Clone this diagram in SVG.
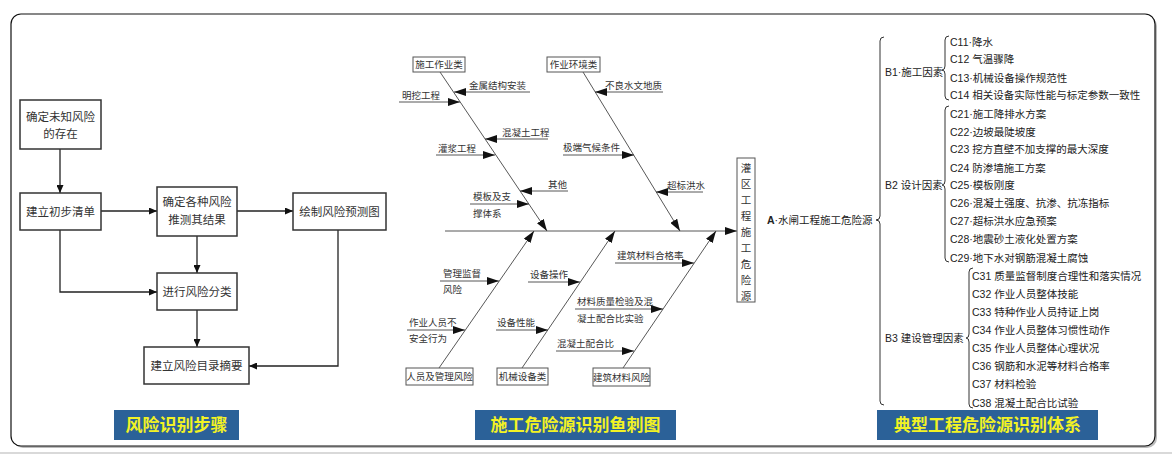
<svg xmlns="http://www.w3.org/2000/svg" width="1172" height="457" viewBox="0 0 1172 457">
<defs>
<style>
.cn{font-family:"Noto Sans CJK SC","Liberation Sans",sans-serif;}
.ln{font-family:"Liberation Sans","Noto Sans CJK SC",sans-serif;}
.fbox{fill:#fff;stroke:#333;stroke-width:1.5;}
.ft{font-size:11.5px;fill:#333;}
.fl{fill:none;stroke:#222;stroke-width:1.3;}
.bbox{fill:#fff;stroke:#555;stroke-width:1;}
.bt{font-size:9.5px;fill:#333;}
.bone{fill:none;stroke:#444;stroke-width:0.9;}
.tt{font-size:10.5px;fill:#222;}
.brace{fill:none;stroke:#333;stroke-width:1;}
.title{fill:#2B6198;}
.titt{font-size:17px;font-weight:bold;fill:#F2F224;text-anchor:middle;}
</style>
<marker id="ah" markerUnits="userSpaceOnUse" markerWidth="12" markerHeight="8" refX="12" refY="4" orient="auto"><path d="M0,0 L12,4 L0,8 z" fill="#111"/></marker>
<marker id="fa" markerUnits="userSpaceOnUse" markerWidth="8" markerHeight="7" refX="8" refY="3.5" orient="auto"><path d="M0,0 L8,3.5 L0,7 z" fill="#111"/></marker>
</defs>
<rect x="0" y="0" width="1172" height="457" fill="#fff"/>
<line x1="0" y1="453" x2="1172" y2="453" stroke="#ccc" stroke-width="1.5"/>
<rect x="13" y="16" width="1144" height="432" rx="10" fill="#bbb"/>
<rect x="11" y="14" width="1144" height="432" rx="10" fill="#fff" stroke="#111" stroke-width="1.2"/>

<!-- Left flowchart -->
<g id="connectors-flow">
<line class="fl" x1="60" y1="149" x2="60" y2="193" marker-end="url(#fa)"/>
<line class="fl" x1="101" y1="211" x2="157" y2="211" marker-end="url(#fa)"/>
<line class="fl" x1="237" y1="211" x2="293" y2="211" marker-end="url(#fa)"/>
<line class="fl" x1="197" y1="236" x2="197" y2="273" marker-end="url(#fa)"/>
<polyline class="fl" points="60,230 60,292 157,292" marker-end="url(#fa)"/>
<line class="fl" x1="197" y1="310" x2="197" y2="347" marker-end="url(#fa)"/>
<polyline class="fl" points="338,230 338,366 249,366" marker-end="url(#fa)"/>
</g>
<g id="n-unknown"><rect class="fbox" x="20" y="100" width="81" height="49"/><text class="cn ft" x="60.5" y="121" text-anchor="middle">确定未知风险</text><text class="cn ft" x="60.5" y="138" text-anchor="middle">的存在</text></g>
<g id="n-list"><rect class="fbox" x="20" y="193" width="81" height="37"/><text class="cn ft" x="60.5" y="215.5" text-anchor="middle">建立初步清单</text></g>
<g id="n-determine"><rect class="fbox" x="157" y="187" width="80" height="49"/><text class="cn ft" x="197" y="206" text-anchor="middle">确定各种风险</text><text class="cn ft" x="197" y="224" text-anchor="middle">推测其结果</text></g>
<g id="n-draw"><rect class="fbox" x="293" y="193" width="93" height="37"/><text class="cn ft" x="339.5" y="215.5" text-anchor="middle">绘制风险预测图</text></g>
<g id="n-classify"><rect class="fbox" x="157" y="273" width="80" height="37"/><text class="cn ft" x="197" y="295.5" text-anchor="middle">进行风险分类</text></g>
<g id="n-catalog"><rect class="fbox" x="144" y="347" width="105" height="37"/><text class="cn ft" x="196.5" y="369.5" text-anchor="middle">建立风险目录摘要</text></g>
<g id="t-left"><rect class="title" x="114" y="410" width="125" height="30"/><text class="cn titt" x="176.5" y="431">风险识别步骤</text></g>

<!-- Fishbone -->
<g id="connectors-fish">
<line class="bone" x1="445" y1="231" x2="737" y2="231" marker-end="url(#ah)"/>
<line class="bone" x1="440" y1="72" x2="547" y2="231" marker-end="url(#ah)"/>
<line class="bone" x1="583" y1="72" x2="680" y2="231" marker-end="url(#ah)"/>
<line class="bone" x1="439" y1="368" x2="534" y2="231" marker-end="url(#ah)"/>
<line class="bone" x1="522" y1="368" x2="615" y2="231" marker-end="url(#ah)"/>
<line class="bone" x1="623" y1="368" x2="716" y2="231" marker-end="url(#ah)"/>
<line class="bone" x1="530" y1="92" x2="454" y2="92" marker-end="url(#ah)"/>
<line class="bone" x1="399" y1="102" x2="460" y2="102" marker-end="url(#ah)"/>
<line class="bone" x1="548" y1="139" x2="485" y2="139" marker-end="url(#ah)"/>
<line class="bone" x1="436" y1="155" x2="495" y2="155" marker-end="url(#ah)"/>
<line class="bone" x1="568" y1="191" x2="520" y2="191" marker-end="url(#ah)"/>
<line class="bone" x1="470" y1="204" x2="529" y2="204" marker-end="url(#ah)"/>
<line class="bone" x1="663" y1="92" x2="595" y2="92" marker-end="url(#ah)"/>
<line class="bone" x1="563" y1="155" x2="634" y2="155" marker-end="url(#ah)"/>
<line class="bone" x1="703" y1="192" x2="656" y2="192" marker-end="url(#ah)"/>
<line class="bone" x1="440" y1="281" x2="499" y2="281" marker-end="url(#ah)"/>
<line class="bone" x1="407" y1="330" x2="465" y2="330" marker-end="url(#ah)"/>
<line class="bone" x1="528" y1="282" x2="580" y2="282" marker-end="url(#ah)"/>
<line class="bone" x1="496" y1="330" x2="548" y2="330" marker-end="url(#ah)"/>
<line class="bone" x1="615" y1="263" x2="694" y2="263" marker-end="url(#ah)"/>
<line class="bone" x1="575" y1="309" x2="663" y2="309" marker-end="url(#ah)"/>
<line class="bone" x1="556" y1="351" x2="634" y2="351" marker-end="url(#ah)"/>
</g>
<g id="fish-labels" class="cn bt">
<text x="469" y="89">金属结构安装</text>
<text x="402" y="99">明挖工程</text>
<text x="502" y="136">混凝土工程</text>
<text x="438" y="152">灌浆工程</text>
<text x="548" y="188">其他</text>
<text x="473" y="200">模板及支</text>
<text x="473" y="217">撑体系</text>
<text x="605" y="89">不良水文地质</text>
<text x="563" y="151">极端气候条件</text>
<text x="667" y="189">超标洪水</text>
<text x="443" y="277">管理监督</text>
<text x="443" y="293">风险</text>
<text x="409" y="326">作业人员不</text>
<text x="409" y="342">安全行为</text>
<text x="530" y="278">设备操作</text>
<text x="497" y="326">设备性能</text>
<text x="617" y="259">建筑材料合格率</text>
<text x="577" y="305">材料质量检验及混</text>
<text x="577" y="322">凝土配合比实验</text>
<text x="557" y="347">混凝土配合比</text>
</g>
<g id="f-construction"><rect class="bbox" x="413" y="57" width="52" height="15"/><text class="cn bt" x="439" y="68.3" text-anchor="middle">施工作业类</text></g>
<g id="f-environment"><rect class="bbox" x="547" y="57" width="53" height="15"/><text class="cn bt" x="573.5" y="68.3" text-anchor="middle">作业环境类</text></g>
<g id="f-personnel"><rect class="bbox" x="406" y="368" width="67" height="17"/><text class="cn bt" x="439.5" y="380.3" text-anchor="middle">人员及管理风险</text></g>
<g id="f-machinery"><rect class="bbox" x="497" y="368" width="51" height="17"/><text class="cn bt" x="522.5" y="380.3" text-anchor="middle">机械设备类</text></g>
<g id="f-material"><rect class="bbox" x="593" y="368" width="57" height="18"/><text class="cn bt" x="621.5" y="380.8" text-anchor="middle">建筑材料风险</text></g>
<g id="f-head"><rect class="bbox" x="737" y="158" width="18" height="144"/>
<g class="cn" font-size="10.5" fill="#333" text-anchor="middle">
<text x="746" y="172">灌</text><text x="746" y="188">区</text><text x="746" y="204">工</text><text x="746" y="220">程</text><text x="746" y="236">施</text><text x="746" y="252">工</text><text x="746" y="268">危</text><text x="746" y="284">险</text><text x="746" y="300">源</text>
</g></g>
<g id="t-mid"><rect class="title" x="475" y="410" width="201" height="30"/><text class="cn titt" x="575.5" y="431">施工危险源识别鱼刺图</text></g>

<!-- Right tree -->
<g id="connectors-tree">
<path class="brace" d="M884,37 Q880,37 880,41 L880,216 Q880,220 876,220 Q880,220 880,224 L880,401 Q880,405 884,405"/>
<path class="brace" d="M949,36 Q945,36 945,40 L945,66 Q945,70 942,70 Q945,70 945,74 L945,96 Q945,100 949,100"/>
<path class="brace" d="M949,106 Q945,106 945,110 L945,181 Q945,185 942,185 Q945,185 945,189 L945,258 Q945,262 949,262"/>
<path class="brace" d="M973,268 Q969,268 969,272 L969,334 Q969,338 966,338 Q969,338 969,342 L969,404 Q969,408 973,408"/>
</g>
<g id="r-A"><text class="ln tt" x="767" y="224"><tspan font-weight="bold">A</tspan>·水闸工程施工危险源</text></g>
<g id="r-B1"><text class="ln tt" x="885" y="76">B1·施工因素</text></g>
<g id="r-B2"><text class="ln tt" x="885" y="189">B2 设计因素</text></g>
<g id="r-B3"><text class="ln tt" x="885" y="342">B3 建设管理因素</text></g>
<g id="r-C1" class="ln tt">
<text x="950" y="46">C11·降水</text>
<text x="950" y="63">C12 气温骤降</text>
<text x="950" y="81.5">C13·机械设备操作规范性</text>
<text x="950" y="99">C14 相关设备实际性能与标定参数一致性</text>
</g>
<g id="r-C2" class="ln tt">
<text x="950" y="118">C21·施工降排水方案</text>
<text x="950" y="136">C22·边坡最陡坡度</text>
<text x="950" y="153">C23 挖方直壁不加支撑的最大深度</text>
<text x="950" y="172">C24 防渗墙施工方案</text>
<text x="950" y="189">C25·模板刚度</text>
<text x="950" y="207">C26·混凝土强度、抗渗、抗冻指标</text>
<text x="950" y="225">C27·超标洪水应急预案</text>
<text x="950" y="243">C28·地震砂土液化处置方案</text>
<text x="950" y="262">C29·地下水对钢筋混凝土腐蚀</text>
</g>
<g id="r-C3" class="ln tt">
<text x="972" y="280">C31 质量监督制度合理性和落实情况</text>
<text x="972" y="298">C32 作业人员整体技能</text>
<text x="972" y="316">C33 特种作业人员持证上岗</text>
<text x="972" y="334">C34 作业人员整体习惯性动作</text>
<text x="972" y="352">C35 作业人员整体心理状况</text>
<text x="972" y="370">C36 钢筋和水泥等材料合格率</text>
<text x="972" y="388">C37 材料检验</text>
<text x="972" y="407">C38 混凝土配合比试验</text>
</g>
<g id="t-right"><rect class="title" x="877" y="410" width="221" height="30"/><text class="cn titt" x="987.5" y="431">典型工程危险源识别体系</text></g>
</svg>
